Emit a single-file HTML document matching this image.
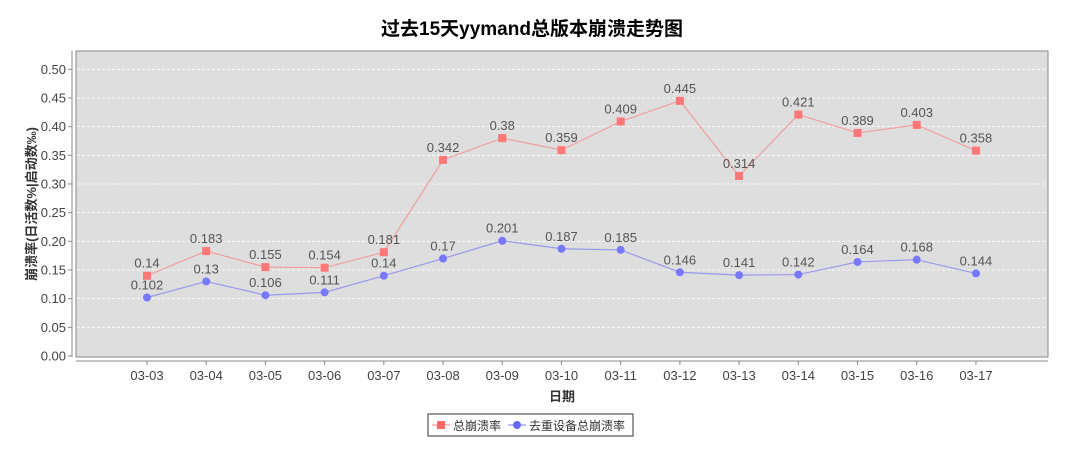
<!DOCTYPE html>
<html><head><meta charset="utf-8"><style>
body{margin:0;background:#fff;}
svg text{font-family:"Liberation Sans","Noto Sans CJK SC",sans-serif;}
</style></head><body>
<svg id="c" width="1065" height="453" xmlns="http://www.w3.org/2000/svg">
<text x="532" y="35" text-anchor="middle" font-size="19" font-weight="bold" fill="#000">过去15天yymand总版本崩溃走势图</text>
<rect x="76" y="51" width="972" height="306" fill="#dedede" stroke="#888" stroke-width="1"/>
<g id="grid"></g>
<line x1="72" y1="51" x2="72" y2="357" stroke="#888"/>
<line x1="76" y1="361" x2="1048" y2="361" stroke="#888"/>
<g id="yt"></g><g id="xt"></g>
<text transform="translate(36,204) rotate(-90)" text-anchor="middle" font-size="13" font-weight="bold" fill="#333">崩溃率(日活数%|启动数‰)</text>
<text x="562" y="401" text-anchor="middle" font-size="13" font-weight="bold" fill="#333">日期</text>
<g id="series"></g>
<g>
<rect x="428" y="414" width="205" height="22" fill="#fff" stroke="#333"/>
<g>
<line x1="432" y1="425" x2="450" y2="425" stroke="#f08080"/><rect x="437" y="421" width="8" height="8" fill="#f66"/>
<text x="453" y="430" font-size="12" fill="#333">总崩溃率</text></g>
<g>
<line x1="508" y1="425" x2="526" y2="425" stroke="#77f"/><circle cx="517" cy="425" r="4" fill="#66f"/>
<text x="529" y="430" font-size="12" fill="#333">去重设备总崩溃率</text></g>
</g>
</svg>
<script>
const categories=["03-03","03-04","03-05","03-06","03-07","03-08","03-09","03-10","03-11","03-12","03-13","03-14","03-15","03-16","03-17"];
const totalRate=[0.14,0.183,0.155,0.154,0.181,0.342,0.38,0.359,0.409,0.445,0.314,0.421,0.389,0.403,0.358];
const dedupRate=[0.102,0.13,0.106,0.111,0.14,0.17,0.201,0.187,0.185,0.146,0.141,0.142,0.164,0.168,0.144];
const yTicks=[0,0.05,0.1,0.15,0.2,0.25,0.3,0.35,0.4,0.45,0.5];
const NS="http://www.w3.org/2000/svg";
const y=v=>356-v*573.4;
const x=i=>147+i*59.21;
function mk(t,a,p){const e=document.createElementNS(NS,t);for(const k in a)e.setAttribute(k,a[k]);p.appendChild(e);return e;}
const grid=document.getElementById('grid'),yt=document.getElementById('yt'),xt=document.getElementById('xt'),ser=document.getElementById('series');
yTicks.forEach(v=>{
 if(v>0){const g=mk('line',{x1:77,x2:1047,y1:y(v),y2:y(v),stroke:'#fff','stroke-dasharray':'3,2','stroke-width':0.8},grid);
 
 }
 mk('line',{x1:68,x2:72,y1:y(v),y2:y(v),stroke:'#888'},yt);
 const t=mk('text',{x:66,y:y(v)+4.5,'text-anchor':'end','font-size':13,fill:'#444'},yt);t.textContent=v.toFixed(2);
 
 
});
categories.forEach((c,i)=>{
 mk('line',{x1:x(i),x2:x(i),y1:361,y2:365,stroke:'#888'},xt);
 const t=mk('text',{x:x(i),y:380,'text-anchor':'middle','font-size':13,fill:'#444'},xt);t.textContent=c;
 
 
});
function draw(vals,color,line,shape,name){
 const pl=mk('polyline',{points:vals.map((v,i)=>x(i)+','+y(v)).join(' '),fill:'none',stroke:line,'stroke-width':1.2},ser);
 
 
 vals.forEach((v,i)=>{
  let m;
  if(shape==='sq')m=mk('rect',{x:x(i)-4,y:y(v)-4,width:8,height:8,fill:color},ser);
  else m=mk('circle',{cx:x(i),cy:y(v),r:4,fill:color},ser);
  
  
  const t=mk('text',{x:x(i),y:y(v)-8,'text-anchor':'middle','font-size':13,fill:'#555'},ser);t.textContent=String(v);
  
  
 });
}
draw(totalRate,'#f77','#f0a0a0','sq','total-crash-rate');
draw(dedupRate,'#77f','#9999ee','ci','dedup-crash-rate');
</script>
</body></html>
